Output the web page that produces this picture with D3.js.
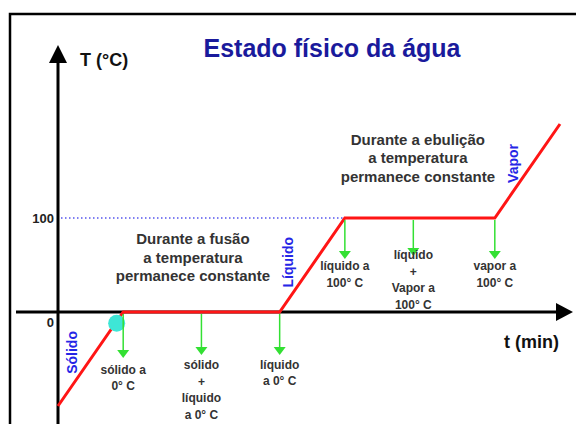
<!DOCTYPE html>
<html><head><meta charset="utf-8">
<script src="https://cdn.jsdelivr.net/npm/d3@7"></script>
<style>
html,body{margin:0;padding:0;background:#fff;}
svg{display:block;font-family:"Liberation Sans",Arial,sans-serif;}
</style></head>
<body>
<svg id="chart" width="576" height="424"></svg>
<script>
// ---- data ----
const times = [0, 1, 3.4, 4.4, 6.7, 7.7];          // t (min)
const temps = [-100, 0, 0, 100, 100, 200];          // T (°C)
const yTicks = [0, 100];
const title = "Estado físico da água";
const yLabel = "T (°C)";
const xLabel = "t (min)";
const arrowTimes = [1, 2.2, 3.4, 4.4, 5.45, 6.7];
const arrowTemps = [0, 0, 0, 100, 100, 100];
const arrowLabels = [
  ["sólido a", "0° C"],
  ["sólido", "+", "líquido", "a 0° C"],
  ["líquido", "a 0° C"],
  ["líquido a", "100° C"],
  ["líquido", "+", "Vapor a", "100° C"],
  ["vapor a", "100° C"]
];
const phaseNames = ["Sólido", "Líquido", "Vapor"];
const phaseTimes = [0.21, 3.53, 6.98];
const phaseTemps = [-43, 53, 158];
const noteLines = [
  ["Durante a fusão", "a temperatura", "permanece constante"],
  ["Durante a ebulição", "a temperatura", "permanece constante"]
];
const noteTimes = [2.07, 5.52];
const noteTemps = [72, 178];
const markerTime = 0.9;
const markerTemp = -12;

// ---- layout ----
const svg = d3.select("#chart");
const x = d3.scaleLinear().domain([0, 7.7]).range([58, 560]);
const y = d3.scaleLinear().domain([-100, 200]).range([406, 124]);
const textCol = "#333";

// frame
svg.append("rect").attr("x", 10).attr("y", 14).attr("width", 580).attr("height", 430)
  .attr("fill", "none").attr("stroke", "#000").attr("stroke-width", 2.5);

// title
svg.append("text").attr("x", 332).attr("y", 57).attr("text-anchor", "middle")
  .attr("font-size", 25).attr("font-weight", "bold").attr("fill", "#1a1a9c").text(title);

// dotted 100 line
svg.append("line").attr("x1", x(0) + 3).attr("x2", x(4.4)).attr("y1", y(100)).attr("y2", y(100))
  .attr("stroke", "#5555ee").attr("stroke-width", 1.5).attr("stroke-dasharray", "1.5,2.5");

// axes lines
svg.append("line").attr("x1", 16).attr("x2", 556).attr("y1", y(0)).attr("y2", y(0))
  .attr("stroke", "#000").attr("stroke-width", 3);
svg.append("path").attr("d", `M556,303L573,${y(0)}L556,321Z`).attr("fill", "#000");
svg.append("line").attr("x1", x(0)).attr("x2", x(0)).attr("y1", 424).attr("y2", 62)
  .attr("stroke", "#000").attr("stroke-width", 3);
svg.append("path").attr("d", `M49,63L${x(0)},45L67,63Z`).attr("fill", "#000");

// y axis ticks via d3 axis
const yAxis = svg.append("g").attr("transform", `translate(${x(0)},0)`)
  .call(d3.axisLeft(y).tickValues(yTicks).tickSize(0).tickPadding(4).tickFormat(d3.format("d")));
yAxis.select(".domain").remove();
yAxis.selectAll("text").attr("font-size", 13).attr("font-weight", "bold").attr("fill", "#222")
  .attr("font-family", "Liberation Sans, Arial, sans-serif")
  .attr("dy", d => d === 0 ? "1.15em" : "0.35em");

// axis labels
svg.append("text").attr("x", 80).attr("y", 66).attr("font-size", 18).attr("font-weight", "bold")
  .attr("fill", "#111").text(yLabel);
svg.append("text").attr("x", 504).attr("y", 348).attr("font-size", 18).attr("font-weight", "bold")
  .attr("fill", "#111").text(xLabel);

// red heating curve
const line = d3.line().x((d, i) => x(times[i])).y((d, i) => y(temps[i]));
svg.append("path").datum(temps).attr("d", line).attr("fill", "none")
  .attr("stroke", "#ff1515").attr("stroke-width", 3).attr("stroke-linejoin", "miter");

// cyan marker
svg.append("circle").attr("cx", x(markerTime)).attr("cy", y(markerTemp)).attr("r", 8.5)
  .attr("fill", "#3ee6d6");

// green arrows + labels
const arrowLen = [36, 33, 33, 31, 28, 31];
const labelGap = [24, 22, 22, 19, 11, 19];
const lineH = [15.5, 16.5, 16, 16.5, 16.5, 16.5];
arrowTimes.forEach((t, i) => {
  const ax = x(t), ay0 = y(arrowTemps[i]) + 2, ay1 = ay0 + arrowLen[i];
  svg.append("line").attr("x1", ax).attr("x2", ax).attr("y1", ay0).attr("y2", ay1)
    .attr("stroke", "#33e033").attr("stroke-width", 1.5);
  svg.append("path").attr("d", `M${ax - 6},${ay1}L${ax + 6},${ay1}L${ax},${ay1 + 8}Z`)
    .attr("fill", "#33e033");
  const tx = svg.append("text").attr("text-anchor", "middle").attr("font-size", 12)
    .attr("font-weight", "bold").attr("fill", textCol);
  arrowLabels[i].forEach((s, j) => {
    tx.append("tspan").attr("x", ax).attr("y", ay1 + labelGap[i] + j * lineH[i]).text(s);
  });
});

// rotated phase names
phaseNames.forEach((s, i) => {
  svg.append("text").attr("transform", `translate(${x(phaseTimes[i]) + 5},${y(phaseTemps[i])}) rotate(-90)`)
    .attr("text-anchor", "middle").attr("font-size", 14).attr("font-weight", "bold")
    .attr("fill", "#2525e6").text(s);
});

// notes
noteLines.forEach((lines, i) => {
  const tx = svg.append("text").attr("text-anchor", "middle").attr("font-size", 15)
    .attr("font-weight", "bold").attr("fill", textCol);
  lines.forEach((s, j) => {
    tx.append("tspan").attr("x", x(noteTimes[i])).attr("y", y(noteTemps[i]) + j * 18.5).text(s);
  });
});
</script>
</body></html>
